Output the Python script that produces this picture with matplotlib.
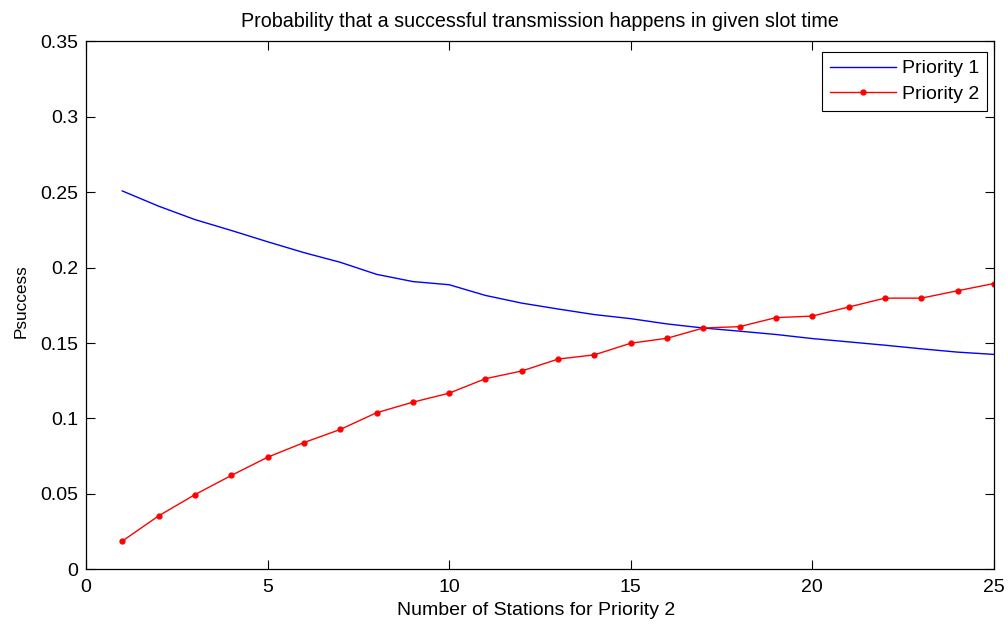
import matplotlib
matplotlib.use("Agg")
import matplotlib.pyplot as plt
import numpy as np

plt.rcParams['font.family'] = ['Liberation Sans', 'DejaVu Sans']

stations = list(range(1, 26))
priority1 = [0.2509, 0.2408, 0.2319, 0.2247, 0.2172, 0.2100, 0.2036, 0.1956, 0.1908, 0.1887,
             0.1816, 0.1765, 0.1726, 0.1689, 0.1662, 0.1627, 0.1600, 0.1579, 0.1557, 0.1530,
             0.1508, 0.1486, 0.1462, 0.1440, 0.1425]
priority2 = [0.0187, 0.0354, 0.0495, 0.0622, 0.0743, 0.0840, 0.0927, 0.1038, 0.1108, 0.1168,
             0.1264, 0.1315, 0.1394, 0.1422, 0.1499, 0.1532, 0.1600, 0.1609, 0.1669, 0.1679,
             0.1739, 0.1798, 0.1798, 0.1847, 0.1895]
xticks = [0, 5, 10, 15, 20, 25]
yticks = [0, 0.05, 0.1, 0.15, 0.2, 0.25, 0.3, 0.35]
ytick_labels = ['0', '0.05', '0.1', '0.15', '0.2', '0.25', '0.3', '0.35']

fig = plt.figure(figsize=(10.08, 6.24), dpi=100)
ax = fig.add_axes([0.0853, 0.0877, 0.9007, 0.8458])

ax.plot(stations, priority1, color='#0000ff', lw=1.0, label='Priority 1')
ax.plot(stations, priority2, color='#ff0000', lw=1.0, marker='.', markersize=7,
        label='Priority 2')

ax.set_xlim(0, 25)
ax.set_ylim(0, 0.35)
ax.set_xticks(xticks)
ax.set_yticks(yticks)
ax.set_yticklabels(ytick_labels)
ax.tick_params(direction='in', top=True, right=True, length=6.5, width=0.8,
               labelsize=14, colors='black')
ax.tick_params(axis='x', pad=7)
ax.tick_params(axis='y', pad=5.5)
for s in ax.spines.values():
    s.set_linewidth(0.9)

ax.set_title('Probability that a successful transmission happens in given slot time',
             fontsize=14.2, pad=10.5)
ax.set_xlabel('Number of Stations for Priority 2', fontsize=14, va='center')
ax.xaxis.set_label_coords(0.496, -0.079)
ax.set_ylabel('Psuccess', fontsize=12.4, va='center')
ax.yaxis.set_label_coords(-0.0718, 0.508)

leg = ax.legend(loc='upper right', bbox_to_anchor=(0.9923, 0.980), borderaxespad=0,
                fontsize=14, fancybox=False, framealpha=1, edgecolor='black',
                handlelength=3.4, handletextpad=0.3, borderpad=0.4, labelspacing=0.4)
leg.get_frame().set_linewidth(0.8)

fig.savefig('out.png', dpi=100)
